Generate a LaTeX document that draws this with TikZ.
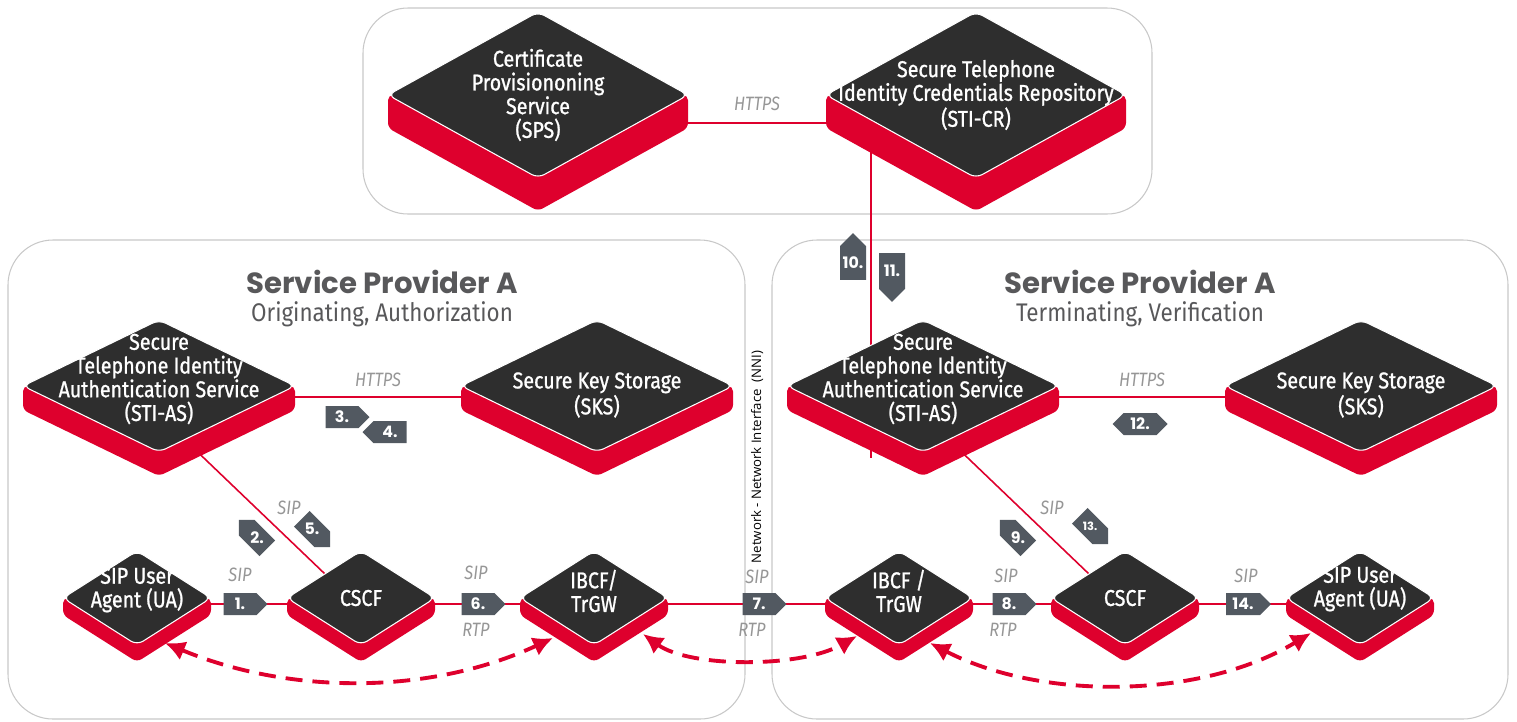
\documentclass[tikz,border=0pt]{standalone}
\usepackage{fontspec}
\setmainfont{Fira Sans}
\newfontfamily\platefont[FakeStretch=0.86,FakeBold=1]{Fira Sans}
\newfontfamily\subfont[FakeStretch=0.88]{Fira Sans}
\newfontfamily\protofont[FakeStretch=0.85]{Fira Sans}
\newfontfamily\headfont{Poppins}
\newfontfamily\nnifont{Open Sans}
\usetikzlibrary{arrows.meta,calc,shapes.symbols}

\definecolor{platered}{RGB}{222,0,45}
\definecolor{platetop}{RGB}{46,46,46}
\definecolor{tagslate}{RGB}{82,89,97}
\definecolor{panelline}{RGB}{200,200,200}
\definecolor{protogray}{RGB}{150,150,150}
\definecolor{headgray}{RGB}{88,88,90}

\pgfdeclarelayer{panels}
\pgfdeclarelayer{links}
\pgfsetlayers{panels,links,main}

% raised plate: [label options]{name}{x}{y}{half width}{half height}{depth}{text}
\newcommand{\isoplate}[8][]{%
    \fill[platebase] (#3-#5,#4) -- (#3-#5,#4+#7) -- (#3,#4+#6+#7) -- (#3+#5,#4+#7) -- (#3+#5,#4) -- (#3,#4) -- cycle;
    \filldraw[plateface] (#3-#5,#4) -- (#3,#4-#6) -- (#3+#5,#4) -- (#3,#4+#6) -- cycle;
    \coordinate (#2) at (#3,#4);
    \node[platetext,#1] (#2-label) at (#2) {#8};
}

\tikzset{
    platebase/.style={fill=platered,rounded corners=3pt},
    plateface/.style={fill=platetop,draw=white,line width=0.6pt,rounded corners=4pt},
    platetext/.style={text=white,align=center,inner sep=0pt,font=\platefont\fontsize{13}{13.5}\selectfont},
    panel/.style={draw=panelline,line width=0.6pt,rounded corners=0.9cm},
    link/.style={draw=platered,line width=0.9pt},
    proto/.style={text=protogray,font=\protofont\itshape\fontsize{11}{11}\selectfont},
    headline/.style={text=headgray,inner sep=0pt,font=\headfont\bfseries\fontsize{16.6}{16.6}\selectfont},
    subline/.style={text=headgray,inner sep=0pt,font=\subfont\fontsize{14.5}{14.5}\selectfont},
    tagbox/.style={signal,signal pointer angle=90,fill=tagslate,text=white,inner sep=0pt,minimum height=0.44cm,minimum width=0.88cm,font=\headfont\bfseries\fontsize{9}{9}\selectfont},
    tagnum/.style={text=white,inner sep=0pt,font=\headfont\bfseries\fontsize{9}{9}\selectfont},
    media/.style={draw=platered,line width=2.2pt,dash pattern=on 0.34cm off 0.2cm,{Latex[length=0.4cm,width=0.4cm]}-{Latex[length=0.4cm,width=0.4cm]}},
    nni/.style={font=\nnifont\fontsize{7.5}{7.5}\selectfont,rotate=90,inner sep=0pt}
}

\begin{document}
\begin{tikzpicture}[x=0.02cm,y=-0.02cm]
    \useasboundingbox (0,0) rectangle (1517,721);

    % plates
    \isoplate{sps}{538}{95}{150}{83}{33}{Certificate\\Provisiononing\\Service\\(SPS)}
    \isoplate{stcr}{976}{95}{150}{83}{33}{Secure Telephone\\Identity Credentials Repository\\(STI-CR)}
    \isoplate[yshift=0.14cm]{asl}{159}{386}{136}{66}{24}{Secure\\Telephone Identity\\Authentication Service\\(STI-AS)}
    \isoplate[yshift=-0.18cm]{sksl}{597}{386}{136}{66}{24}{Secure Key Storage\\(SKS)}
    \isoplate[yshift=0.14cm]{asr}{923}{386}{136}{66}{24}{Secure\\Telephone Identity\\Authentication Service\\(STI-AS)}
    \isoplate[yshift=-0.18cm]{sksr}{1361}{386}{136}{66}{24}{Secure Key Storage\\(SKS)}
    \isoplate[yshift=0.16cm]{ual}{137}{598}{74}{47}{17}{SIP User\\Agent (UA)}
    \isoplate{cscfl}{361}{598}{74}{47}{17}{CSCF}
    \isoplate[yshift=0.14cm]{ibcfl}{594}{598}{74}{47}{17}{IBCF/\\TrGW}
    \isoplate[yshift=0.14cm]{ibcfr}{899}{598}{74}{47}{17}{IBCF /\\TrGW}
    \isoplate{cscfr}{1125}{598}{74}{47}{17}{CSCF}
    \isoplate[yshift=0.18cm]{uar}{1360}{598}{74}{47}{17}{SIP User\\Agent (UA)}

    % panels
    \begin{pgfonlayer}{panels}
        \draw[panel] (363,8) rectangle (1152,214);
        \draw[panel] (8,240) rectangle (745,719);
        \draw[panel] (772,240) rectangle (1508,719);
    \end{pgfonlayer}

    % signalling links
    \begin{pgfonlayer}{links}
        \draw[link] ($(sps)+(150,28)$) -- node[proto,yshift=0.38cm] (https-top) {HTTPS} ($(stcr)+(-150,28)$);
        \draw[link] ($(stcr)+(-105,40)$) -- ($(asr)+(-52,72)$);
        \draw[link] ($(asl)+(136,11)$) -- node[proto,yshift=0.34cm] (https-l) {HTTPS} ($(sksl)+(-136,11)$);
        \draw[link] ($(asr)+(136,11)$) -- node[proto,yshift=0.34cm] (https-r) {HTTPS} ($(sksr)+(-136,11)$);
        \draw[link] ($(asl)+(24,52)$) -- ($(cscfl)+(-36,-24)$);
        \draw[link] ($(asr)+(24,52)$) -- ($(cscfr)+(-36,-24)$);
        \draw[link] ($(ual)+(74,6)$) -- ($(cscfl)+(-74,6)$);
        \draw[link] ($(cscfl)+(74,6)$) -- ($(ibcfl)+(-74,6)$);
        \draw[link] ($(ibcfl)+(74,6)$) -- ($(ibcfr)+(-74,6)$);
        \draw[link] ($(ibcfr)+(74,6)$) -- ($(cscfr)+(-74,6)$);
        \draw[link] ($(cscfr)+(74,6)$) -- ($(uar)+(-74,6)$);
    \end{pgfonlayer}

    % media paths
    \draw[media] ($(ual)+(28,45)$) .. controls (290,695) and (430,695) .. ($(ibcfl)+(-41,40)$);
    \draw[media] ($(ibcfl)+(49,36)$) .. controls (690,668) and (800,668) .. ($(ibcfr)+(-42,38)$);
    \draw[media] ($(ibcfr)+(31,45)$) .. controls (1040,700) and (1200,700) .. ($(uar)+(-49,35)$);

    % protocol labels
    \node[proto] (sip-a) at (240,575) {SIP};
    \node[proto] (sip-b) at (289,508) {SIP};
    \node[proto] (sip-c) at (476,573) {SIP};
    \node[proto] (rtp-c) at (476,630) {RTP};
    \node[proto] (sip-d) at (757,577) {SIP};
    \node[proto] (rtp-d) at (752,630) {RTP};
    \node[proto] (sip-e) at (1052,508) {SIP};
    \node[proto] (sip-f) at (1006,576) {SIP};
    \node[proto] (rtp-f) at (1003,630) {RTP};
    \node[proto] (sip-g) at (1246,576) {SIP};

    % step tags
    \node[tagbox,signal to=east] (tag1) at (240,604) {1.};
    \node[tagbox,signal to=east,rotate=135,minimum width=0.8cm] (tag2) at (257,538) {};
    \node[tagnum] (tag2-num) at (tag2) {2.};
    \node[tagbox,signal to=east] (tag3) at (342,417) {3.};
    \node[tagbox,signal to=west] (tag4) at (390,432) {4.};
    \node[tagbox,signal to=east,rotate=-45,minimum width=0.8cm] (tag5) at (312,529) {};
    \node[tagnum] (tag5-num) at (tag5) {5.};
    \node[tagbox,signal to=east] (tag6) at (478,604) {6.};
    \node[tagbox,signal to=east] (tag7) at (759,604) {7.};
    \node[tagbox,signal to=east] (tag8) at (1009,604) {8.};
    \node[tagbox,signal to=east,rotate=135,minimum width=0.8cm] (tag9) at (1018,538) {};
    \node[tagnum] (tag9-num) at (tag9) {9.};
    \node[tagbox,signal to=north,minimum width=0.52cm,minimum height=0.88cm] (tag10) at (853,263) {10.};
    \node[tagbox,signal to=south,minimum width=0.52cm,minimum height=0.88cm] (tag11) at (892,271) {11.};
    \node[tagbox,signal to=east and west,minimum width=1.1cm] (tag12) at (1140,424) {12.};
    \node[tagbox,signal to=east,rotate=-45,minimum width=0.8cm] (tag13) at (1090,526) {};
    \node[tagnum,font=\headfont\bfseries\fontsize{6.5}{6.5}\selectfont] (tag13-num) at (tag13) {13.};
    \node[tagbox,signal to=east,minimum width=0.9cm] (tag14) at (1243,604) {14.};

    % headings
    \node[headline] (orig-title) at (382,282) {Service Provider A};
    \node[subline] (orig-sub) at (382,314) {Originating, Authorization};
    \node[headline] (term-title) at (1140,282) {Service Provider A};
    \node[subline] (term-sub) at (1140,314) {Terminating, Verification};
    \node[nni] (nni) at (757,457) {Network - Network Interface\ \ (NNI)};
\end{tikzpicture}
\end{document}
